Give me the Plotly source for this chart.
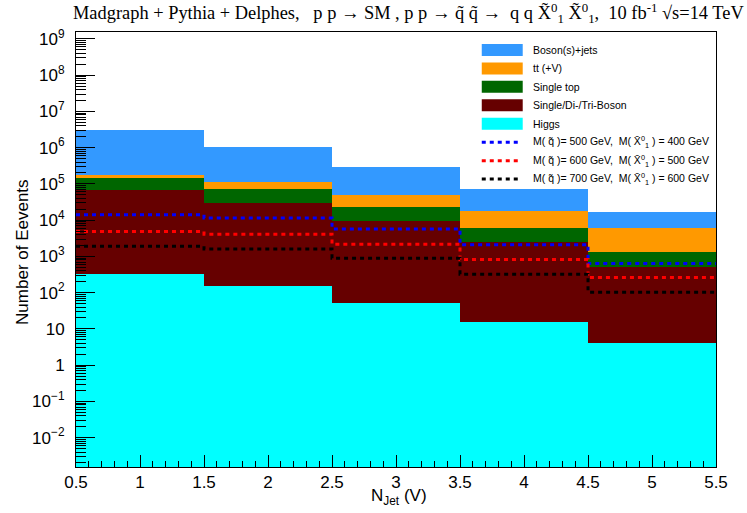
import plotly.graph_objects as go

# ---------------- data ----------------
njet = [1, 2, 3, 4, 5]
bin_edges = [0.5, 1.5, 2.5, 3.5, 4.5, 5.5]

higgs = [335, 155, 52, 15.6, 4.1]
multiboson = [68700, 29800, 9450, 2545, 521]
single_top = [78000, 43000, 14000, 3540, 835]
ttbar = [31000, 41000, 26500, 11900, 4740]
boson_jets = [2920000, 936000, 246000, 55000, 10900]

sig_500_400 = [14000, 11400, 5700, 2100, 633]
sig_600_500 = [4850, 4100, 2170, 820, 260]
sig_700_600 = [1900, 1600, 890, 324, 103]

bkg_names = ["Boson(s)+jets", "tt (+V)", "Single top", "Single/Di-/Tri-Boson", "Higgs"]
sig_names = [
    "M( q\u0303 )= 500 GeV,\u00a0 M( X\u0304<sup>0</sup><sub>1</sub> ) = 400 GeV",
    "M( q\u0303 )= 600 GeV,\u00a0 M( X\u0304<sup>0</sup><sub>1</sub> ) = 500 GeV",
    "M( q\u0303 )= 700 GeV,\u00a0 M( X\u0304<sup>0</sup><sub>1</sub> ) = 600 GeV",
]

x_ticks = [0.5, 1, 1.5, 2, 2.5, 3, 3.5, 4, 4.5, 5, 5.5]
x_ticktext = ["0.5", "1", "1.5", "2", "2.5", "3", "3.5", "4", "4.5", "5", "5.5"]
y_exps = list(range(-2, 10))
y_ticktext = ["10<sup>\u22122</sup>", "10<sup>\u22121</sup>", "1", "10",
              "10<sup>2</sup>", "10<sup>3</sup>", "10<sup>4</sup>", "10<sup>5</sup>",
              "10<sup>6</sup>", "10<sup>7</sup>", "10<sup>8</sup>", "10<sup>9</sup>"]

# ---------------- styles ----------------
bkg_colors = ["#3399ff", "#ff9900", "#006600", "#660000", "#00ffff"]
sig_colors = ["#0000ff", "#ff0000", "#000000"]
SANS = "Liberation Sans, Arial, sans-serif"
SERIF = "Liberation Serif, Times New Roman, serif"

W, H = 747, 513

fig = go.Figure()

# stacked backgrounds (bottom first)
stack = [(higgs, 4), (multiboson, 3), (single_top, 2), (ttbar, 1), (boson_jets, 0)]
for vals, i in stack:
    fig.add_trace(go.Bar(x=njet, y=vals, width=1, name=bkg_names[i],
                         marker=dict(color=bkg_colors[i], line=dict(width=0)),
                         showlegend=False))

# signal step lines
for vals, col, nm in zip([sig_500_400, sig_600_500, sig_700_600], sig_colors, sig_names):
    fig.add_trace(go.Scatter(x=bin_edges, y=vals + [vals[-1]], mode="lines",
                             line=dict(color=col, width=3, dash="4px,4px", shape="hv"),
                             name=nm, showlegend=False))

# ---------------- manual legend ----------------
L_X0, L_X1, L_TX = 0.634, 0.698, 0.711
ROW0, STEP, HALF = 0.9587, 0.0424, 0.0138
shapes = []
annots = []
for i, (nm, col) in enumerate(zip(bkg_names, bkg_colors)):
    yc = ROW0 - STEP * i
    shapes.append(dict(type="rect", xref="paper", yref="paper", x0=L_X0, x1=L_X1,
                       y0=yc - HALF, y1=yc + HALF, fillcolor=col, line=dict(width=0)))
    annots.append(dict(xref="paper", yref="paper", x=L_TX, y=yc, text=nm, showarrow=False,
                       xanchor="left", yanchor="middle", font=dict(family=SANS, size=10.5, color="black")))
for j, (nm, col) in enumerate(zip(sig_names, sig_colors)):
    yc = ROW0 - STEP * (len(bkg_names) + j)
    shapes.append(dict(type="line", xref="paper", yref="paper", x0=L_X0, x1=L_X1 - 0.003,
                       y0=yc, y1=yc, line=dict(color=col, width=3, dash="4px,4px")))
    annots.append(dict(xref="paper", yref="paper", x=L_TX, y=yc, text=nm, showarrow=False,
                       xanchor="left", yanchor="middle", font=dict(family=SANS, size=10.5, color="black")))

# axis titles
annots.append(dict(xref="paper", yref="paper", x=0.505, y=-0.068, text="N<sub>Jet</sub> (V)",
                   showarrow=False, xanchor="center", yanchor="middle",
                   font=dict(family=SANS, size=17, color="black")))
annots.append(dict(xref="paper", yref="paper", x=-0.084, y=0.495, text="Number of Eevents",
                   showarrow=False, xanchor="center", yanchor="middle", textangle=-90,
                   font=dict(family=SANS, size=17, color="black")))

title_text = ("Madgraph + Pythia + Delphes,\u00a0\u00a0 p p \u2192 SM , p p \u2192 q\u0303 q\u0303 \u2192\u00a0 "
              "q q X\u0303<sup>0</sup><sub>1</sub> X\u0303<sup>0</sup><sub>1</sub>,\u00a0 10 fb<sup>-1</sup> \u221as=14 TeV")

fig.update_layout(
    width=W, height=H,
    margin=dict(l=76, r=31, t=32, b=46, autoexpand=False),
    paper_bgcolor="white", plot_bgcolor="white",
    barmode="stack", bargap=0,
    showlegend=False,
    shapes=shapes, annotations=annots,
    title=dict(text=title_text, font=dict(family=SERIF, size=18.4, color="black"),
               x=73 / W, xanchor="left", xref="container",
               y=1 - 13 / H, yanchor="middle", yref="container"),
    xaxis=dict(range=[0.5, 5.5], tickmode="array", tickvals=x_ticks, ticktext=x_ticktext,
               ticks="inside", ticklen=12, tickcolor="black", tickwidth=1,
               minor=dict(ticks="inside", ticklen=6, dtick=0.1, tick0=0.5, tickcolor="black", showgrid=False),
               showline=True, linecolor="black", linewidth=1, mirror=True,
               showgrid=False, zeroline=False, automargin=False,
               tickfont=dict(family=SANS, size=17, color="black")),
    yaxis=dict(type="log", range=[-2.81, 9.19], tickmode="array",
               tickvals=[10.0 ** e for e in y_exps], ticktext=y_ticktext,
               ticks="inside", ticklen=19, tickcolor="black", tickwidth=1,
               minor=dict(ticks="inside", ticklen=10, tickcolor="black", showgrid=False,
                          tickvals=[k * 10.0 ** e for e in range(-3, 10) for k in range(2, 10)]),
               showline=True, linecolor="black", linewidth=1, mirror=True,
               showgrid=False, zeroline=False, automargin=False, ticklabelstandoff=7,
               tickfont=dict(family=SANS, size=17, color="black")),
)

# let the figure sit flush in the window (no default page margin), no toolbar
fig.write_html("out.html", config={"displayModeBar": False},
               post_script="document.body.style.margin='0px';")
